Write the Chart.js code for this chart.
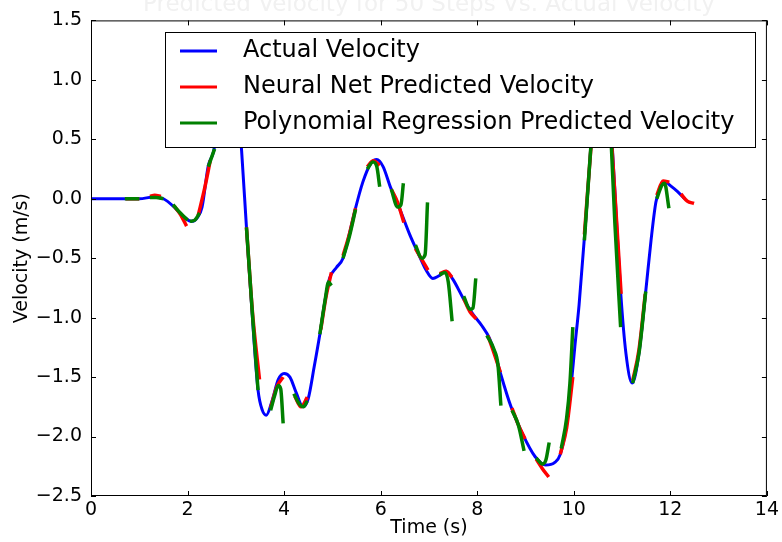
<!DOCTYPE html>
<html>
<head>
<meta charset="utf-8">
<title>Velocity prediction</title>
<script src="https://cdn.jsdelivr.net/npm/chart.js@4.4.1/dist/chart.umd.min.js"></script>
<style>
    html, body { margin: 0; padding: 0; background: #fff; }
    #wrap { width: 782px; height: 542px; }
</style>
</head>
<body>
<div id="wrap"><canvas id="velChart" width="782" height="542"></canvas></div>
<script>
// Actual velocity (time s, velocity m/s)
const actualT = [0, 0.5, 1.0, 1.3, 1.5, 1.75, 1.95, 2.08, 2.2, 2.3, 2.43, 2.54, 2.7, 2.85, 2.95, 3.05, 3.12, 3.22, 3.32, 3.46,
    3.55, 3.63, 3.75, 3.88, 4.0, 4.12, 4.25, 4.39, 4.5, 4.62, 4.74, 4.85, 4.94, 5.08, 5.22, 5.35, 5.46, 5.63, 5.8, 5.92,
    6.05, 6.2, 6.39, 6.6, 6.8, 6.94, 7.08, 7.2, 7.36, 7.5, 7.7, 7.91, 8.1, 8.25, 8.38, 8.49, 8.7, 8.94, 9.2, 9.42,
    9.6, 9.72, 9.85, 9.94, 10.02, 10.11, 10.25, 10.35, 10.45, 10.55, 10.65, 10.73, 10.8, 10.88, 10.97, 11.08, 11.21, 11.35, 11.49, 11.6,
    11.7, 11.8, 11.9, 12.0, 12.15, 12.3];
const actualV = [0, 0, 0, 0.015, 0.0, -0.08, -0.16, -0.19, -0.16, -0.07, 0.28, 0.4, 0.85, 1.15, 1.15, 0.8, 0.4, -0.24, -0.86, -1.61,
    -1.78, -1.82, -1.7, -1.52, -1.47, -1.5, -1.63, -1.75, -1.68, -1.42, -1.14, -0.85, -0.67, -0.58, -0.5, -0.3, -0.11, 0.14, 0.3, 0.33,
    0.27, 0.1, -0.08, -0.3, -0.48, -0.6, -0.67, -0.65, -0.61, -0.68, -0.83, -0.97, -1.07, -1.17, -1.32, -1.48, -1.75, -1.98, -2.17, -2.24,
    -2.22, -2.15, -1.9, -1.59, -1.25, -0.89, -0.17, 0.42, 0.95, 1.15, 1.1, 0.8, 0.42, -0.15, -0.78, -1.3, -1.55, -1.3, -0.78, -0.35,
    -0.03, 0.1, 0.14, 0.11, 0.06, 0.0];

// Neural net predictions (null = gap between prediction windows)
const netT = [0.72, 0.85, 1.0, null, 1.22, 1.32, 1.45, null, 1.72, 1.85, 1.98, null, 2.22, 2.35, 2.47, null,
    3.22, 3.35, 3.49, null, 3.72, 3.85, 3.98, null, 4.22, 4.35, 4.48, null, 4.76, 4.87, 4.98, null,
    5.22, 5.35, 5.48, null, 5.72, 5.85, 5.98, null, 6.22, 6.35, 6.48, null, 6.72, 6.85, 6.98, null,
    7.22, 7.35, 7.48, null, 7.72, 7.85, 7.98, null, 8.22, 8.35, 8.48, null, 8.72, 8.85, 8.99, null,
    9.22, 9.35, 9.48, null, 9.72, 9.85, 9.98, null, 10.22, 10.35, 10.48, null, 10.72, 10.85, 10.98, null,
    11.22, 11.35, 11.48, null, 11.72, 11.85, 11.98, null, 12.22, 12.35, 12.49];
const netV = [0, 0, 0, null, 0.02, 0.03, 0.02, null, -0.06, -0.13, -0.23, null, -0.14, 0.08, 0.32, null,
    -0.24, -0.98, -1.52, null, -1.76, -1.58, -1.5, null, -1.66, -1.75, -1.67, null, -1.1, -0.82, -0.62, null,
    -0.48, -0.3, -0.08, null, 0.27, 0.32, 0.28, null, 0.08, -0.03, -0.2, null, -0.42, -0.51, -0.6, null,
    -0.63, -0.61, -0.66, null, -0.84, -0.95, -1.01, null, -1.15, -1.3, -1.46, null, -1.76, -1.9, -2.02, null,
    -2.19, -2.27, -2.34, null, -2.15, -1.93, -1.5, null, -0.3, 0.4, 1.0, null, 0.88, 0.05, -0.8, null,
    -1.53, -1.27, -0.8, null, 0.03, 0.15, 0.14, null, 0.04, -0.02, -0.04];

// Polynomial regression predictions
const polyT = [0.7, 0.85, 1.0, null, 1.22, 1.35, 1.5, null, 1.7, 1.85, 2.0, null, 2.05, 2.15, 2.25, null, 2.43, 2.56, null,
    3.22, 3.34, 3.46, null, 3.72, 3.8, 3.88, 3.93, 3.98, null, 4.2, 4.32, 4.4, 4.48, null, 4.74, 4.85, 4.92, 4.98, null,
    5.22, 5.35, 5.48, null, 5.72, 5.84, 5.92, 5.98, null, 6.22, 6.35, 6.42, 6.47, null, 6.72, 6.85, 6.92, 6.97, null,
    7.22, 7.33, 7.4, 7.48, null, 7.72, 7.85, 7.91, 7.97, null, 8.2, 8.35, 8.43, 8.49, null, 8.72, 8.85, 8.97, null,
    9.22, 9.35, 9.42, 9.49, null, 9.74, 9.85, 9.92, 9.98, null, 10.22, 10.35, 10.45, null, 10.75, 10.85, 10.97, null,
    11.22, 11.35, 11.49, null, 11.72, 11.82, 11.88, 11.97];
const polyV = [0, 0, 0, null, 0.01, 0.01, 0.0, null, -0.05, -0.12, -0.18, null, -0.19, -0.18, -0.12, null, 0.27, 0.42, null,
    -0.24, -0.95, -1.61, null, -1.78, -1.66, -1.57, -1.6, -1.89, null, -1.64, -1.73, -1.75, -1.7, null, -1.14, -0.85, -0.7, -0.73, null,
    -0.5, -0.32, -0.09, null, 0.25, 0.31, 0.27, 0.1, null, 0.08, -0.07, -0.05, 0.13, null, -0.39, -0.5, -0.47, -0.03, null,
    -0.64, -0.62, -0.7, -1.03, null, -0.82, -0.93, -0.92, -0.67, null, -1.15, -1.27, -1.4, -1.74, null, -1.78, -1.9, -2.12, null,
    -2.18, -2.23, -2.2, -2.05, null, -2.1, -1.85, -1.55, -1.08, null, -0.35, 0.42, 0.95, null, 0.7, -0.2, -1.08, null,
    -1.55, -1.3, -0.78, null, 0.0, 0.11, 0.13, -0.08];

const xTicks = [0, 2, 4, 6, 8, 10, 12, 14];
const yTicks = [-2.5, -2.0, -1.5, -1.0, -0.5, 0.0, 0.5, 1.0, 1.5];

const chartTitle = 'Predicted Velocity for 50 Steps Vs. Actual Velocity';
const FONT = 'DejaVu Sans';

// turn time/value lists into {x, y} points, nulls make breaks
function toPoints(ts, vs) {
    return ts.map((t, i) => ({ x: t === null ? ts[i - 1] : t, y: vs[i] }));
}

// box around the plot + inward ticks, legend and the faint title
const framePlugin = {
    id: 'frame',
    afterDatasetsDraw(chart) {
        const { ctx, chartArea: a, scales } = chart;
        ctx.save();

        // faint title at top edge (drawn first, sits under the frame)
        ctx.fillStyle = '#f1f1f1';
        ctx.textAlign = 'center';
        ctx.textBaseline = 'middle';
        ctx.font = '23px "' + FONT + '"';
        ctx.fillText(chartTitle, (a.left + a.right) / 2, 5);

        ctx.strokeStyle = '#000';
        ctx.lineWidth = 1;
        ctx.strokeRect(a.left + 0.5, a.top + 0.5, a.right - a.left - 1, a.bottom - a.top - 1);
        const len = 5;
        ctx.beginPath();
        xTicks.forEach(v => {
            const px = Math.round(scales.x.getPixelForValue(v)) + 0.5;
            ctx.moveTo(px, a.bottom); ctx.lineTo(px, a.bottom - len);
            ctx.moveTo(px, a.top); ctx.lineTo(px, a.top + len);
        });
        yTicks.forEach(v => {
            const py = Math.round(scales.y.getPixelForValue(v)) + 0.5;
            ctx.moveTo(a.left, py); ctx.lineTo(a.left + len, py);
            ctx.moveTo(a.right, py); ctx.lineTo(a.right - len, py);
        });
        ctx.stroke();

        // legend box inside the plot
        const lx = 165, ly = 32, lw = 590, lh = 115;
        ctx.fillStyle = '#fff';
        ctx.fillRect(lx, ly, lw, lh);
        ctx.strokeRect(lx + 0.5, ly + 0.5, lw, lh);
        ctx.font = '24px "' + FONT + '"';
        ctx.textAlign = 'left';
        chart.data.datasets.forEach((ds, i) => {
            const y = 51 + i * 36;
            ctx.strokeStyle = ds.borderColor;
            ctx.lineWidth = 3;
            ctx.beginPath();
            ctx.moveTo(180, y); ctx.lineTo(217, y);
            ctx.stroke();
            ctx.fillStyle = '#000';
            ctx.fillText(ds.label, 243, y);
        });
        ctx.restore();
    }
};

const velChart = new Chart(document.getElementById('velChart'), {
    type: 'line',
    data: {
        datasets: [{
            label: 'Actual Velocity',
            data: toPoints(actualT, actualV),
            borderColor: '#0000ff',
            borderWidth: 3,
            order: 3
        }, {
            label: 'Neural Net Predicted Velocity',
            data: toPoints(netT, netV),
            borderColor: '#ff0000',
            borderWidth: 3.5,
            order: 2
        }, {
            label: 'Polynomial Regression Predicted Velocity',
            data: toPoints(polyT, polyV),
            borderColor: '#008000',
            borderWidth: 3.5,
            order: 1
        }]
    },
    options: {
        responsive: false,
        animation: false,
        events: [],
        spanGaps: false,
        elements: {
            point: { radius: 0 },
            line: { cubicInterpolationMode: 'monotone', fill: false, borderCapStyle: 'butt' }
        },
        layout: { padding: { top: 17, right: 14, left: 0, bottom: 0 } },
        plugins: {
            legend: { display: false },
            title: { display: false },
            tooltip: { enabled: false }
        },
        scales: {
            x: {
                type: 'linear',
                min: 0, max: 14,
                afterFit(s) { s.height = 46; },
                afterBuildTicks(s) { s.ticks = xTicks.map(v => ({ value: v })); },
                grid: { display: false, drawTicks: false },
                border: { display: false },
                ticks: { color: '#000', font: { family: FONT, size: 19 }, padding: 3, maxRotation: 0 },
                title: { display: true, text: 'Time (s)', color: '#000', font: { family: FONT, size: 19 }, padding: { top: 0, bottom: 3 } }
            },
            y: {
                type: 'linear',
                min: -2.5, max: 1.5,
                afterFit(s) { s.width = 91; },
                afterBuildTicks(s) { s.ticks = yTicks.map(v => ({ value: v })); },
                grid: { display: false, drawTicks: false },
                border: { display: false },
                ticks: {
                    color: '#000', font: { family: FONT, size: 19 }, padding: 9,
                    callback: v => v.toFixed(1).replace('-', '\u2212')
                },
                title: { display: true, text: 'Velocity (m/s)', color: '#000', font: { family: FONT, size: 19 }, padding: { top: 11, bottom: 0 } }
            }
        }
    },
    plugins: [framePlugin]
});
</script>
</body>
</html>
